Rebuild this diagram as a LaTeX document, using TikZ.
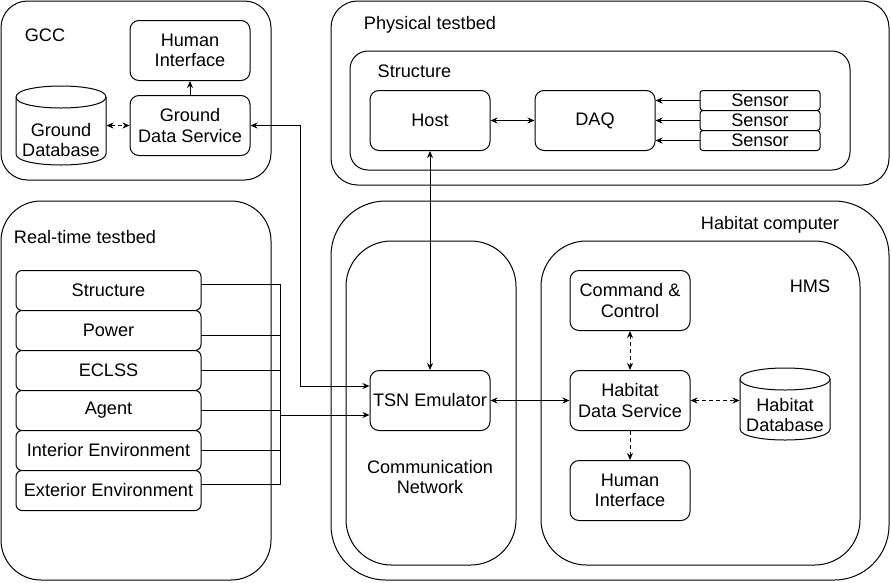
\documentclass[tikz,border=0pt]{standalone}
\usepackage{fontspec}
\setmainfont{Liberation Sans}
\usetikzlibrary{arrows.meta}
\usetikzlibrary{positioning}

\begin{document}
\begin{tikzpicture}[x=0.75pt, y=-0.75pt, line width=0.75pt,
    font=\fontsize{13.6}{15.5}\selectfont,
    box/.style={draw, fill=white, rounded corners=6.75pt, minimum width=90pt, minimum height=45pt, align=center, inner sep=1pt},
    subsys/.style={draw, fill=white, rounded corners=4.5pt, minimum width=138.75pt, minimum height=30pt, inner sep=0pt, outer sep=0pt},
    sensorbox/.style={draw, fill=white, rounded corners=2.25pt, minimum width=90pt, minimum height=15pt, inner sep=0pt, outer sep=0pt},
    dbtext/.style={minimum width=67.5pt, inner sep=0pt, align=center},
    tag/.style={inner sep=0pt, align=center},
    arr/.style={-{Stealth[length=5.25pt,width=4.5pt]}},
    dbl/.style={{Stealth[length=5.25pt,width=4.5pt]}-{Stealth[length=5.25pt,width=4.5pt]}},
    dashline/.style={dash pattern=on 3pt off 2.25pt}]
    \useasboundingbox (0,0) rectangle (891,582);

    %%%%%%%%
    % GCC
    %%%%%%%%

    % outer box
    \filldraw[fill=white, rounded corners=20pt] (1,1) rectangle (271,180);
    \node[tag] (gcclabel) at (45,35) {GCC};

    % boxes
    \node[box] (ghuman) at (190,50.5) {Human\\Interface};
    \node[box] (gds) at (190,125.5) {Ground\\Data Service};

    % database cylinder
    \filldraw[fill=white] (16,97) -- (16,154) .. controls (16,168.67) and (106,168.67) .. (106,154) -- (106,97) .. controls (106,82.33) and (16,82.33) .. cycle;
    \draw (16,97) .. controls (16,111.67) and (106,111.67) .. (106,97);
    \node[dbtext] (gdb) at (61,140) {Ground\\Database};

    %%%%%%%%
    % physical testbed
    %%%%%%%%

    % outer boxes
    \filldraw[fill=white, rounded corners=20pt] (331,1) rectangle (889,185);
    \node[tag] (physlabel) at (430,25) {Physical testbed};
    \filldraw[fill=white, rounded corners=13.5pt] (350,51) rectangle (850,170);
    \node[tag] (structlabel) at (414.5,71) {Structure};

    % boxes
    \node[box] (host) at (430,120.5) {Host};
    \node[box] (daq) at (595,120.5) {DAQ};
    \node[sensorbox] (sensora) at (760,100.5) {Sensor};
    \node[sensorbox, below=0pt of sensora] (sensorb) {Sensor};
    \node[sensorbox, below=0pt of sensorb] (sensorc) {Sensor};

    %%%%%%%%
    % real-time testbed
    %%%%%%%%

    % outer box
    \filldraw[fill=white, rounded corners=30pt] (1,201) rectangle (271,580);
    \node[tag] (rtlabel) at (85,237) {Real-time testbed};

    % subsystems
    \node[subsys] (rtstruct) at (108.5,290.5) {Structure};
    \node[subsys, below=0pt of rtstruct] (rtpower) {Power};
    \node[subsys, below=0pt of rtpower] (rteclss) {ECLSS};
    \node[subsys, below=0pt of rteclss] (rtagent) {Agent};
    \node[subsys, below=0pt of rtagent] (rtinterior) {Interior Environment};
    \node[subsys, below=0pt of rtinterior] (rtexterior) {Exterior Environment};

    %%%%%%%%
    % habitat computer
    %%%%%%%%

    % outer boxes
    \filldraw[fill=white, rounded corners=41pt] (331,201) rectangle (889,580);
    \node[tag] (habitatlabel) at (770,225) {Habitat computer};
    \filldraw[fill=white, rounded corners=34pt] (346,241) rectangle (516,565);
    \node[tag] (commlabel) at (430,477) {Communication\\Network};
    \filldraw[fill=white, rounded corners=34pt] (541,241) rectangle (860,565);
    \node[tag] (hmslabel) at (810,286) {HMS};

    % boxes
    \node[box] (tsn) at (430,400.5) {TSN Emulator};
    \node[box] (command) at (630,300.5) {Command \&\\Control};
    \node[box] (hds) at (630,400.5) {Habitat\\Data Service};
    \node[box] (hhuman) at (630,490.5) {Human\\Interface};

    % database cylinder
    \filldraw[fill=white] (740,379) -- (740,429) .. controls (740,443.67) and (830,443.67) .. (830,429) -- (830,379) .. controls (830,364.33) and (740,364.33) .. cycle;
    \draw (740,379) .. controls (740,393.67) and (830,393.67) .. (830,379);
    \node[dbtext] (hdb) at (785,415) {Habitat\\Database};

    %%%%%%%%
    % connectors
    %%%%%%%%

    % GCC
    \draw[dbl, dashline] (gdb.east |- gds.west) -- (gds.west);
    \draw[arr] (gds) -- (ghuman);

    % physical testbed
    \draw[dbl] (host) -- (daq);
    \draw[arr] (sensora.west) -- (sensora.west -| daq.east);
    \draw[arr] (sensorb.west) -- (sensorb.west -| daq.east);
    \draw[arr] (sensorc.west) -- (sensorc.west -| daq.east);
    \draw[dbl] (host) -- (tsn);

    % ground link
    \coordinate (gdsbend) at (300,386);
    \draw[dbl] (gds.east) -| (gdsbend) -- (gdsbend -| tsn.west);

    % real-time bus
    \coordinate (rtbus) at (280,415);
    \draw ([yshift=4.5pt]rtstruct.east) -| (rtbus);
    \draw ([yshift=-3.75pt]rtpower.east) -| (rtbus);
    \draw (rteclss.east) -| (rtbus);
    \draw (rtagent.east) -| (rtbus);
    \draw (rtinterior.east) -| (rtbus);
    \draw ([yshift=4.5pt]rtexterior.east) -| (rtbus);
    \draw[arr] (rtbus) -- (rtbus -| tsn.west);

    % HMS
    \draw[dbl] (tsn) -- (hds);
    \draw[dbl, dashline] (command) -- (hds);
    \draw[arr, dashline] (hds) -- (hhuman);
    \draw[dbl, dashline] (hds.east) -- (hds.east -| hdb.west);
\end{tikzpicture}
\end{document}
